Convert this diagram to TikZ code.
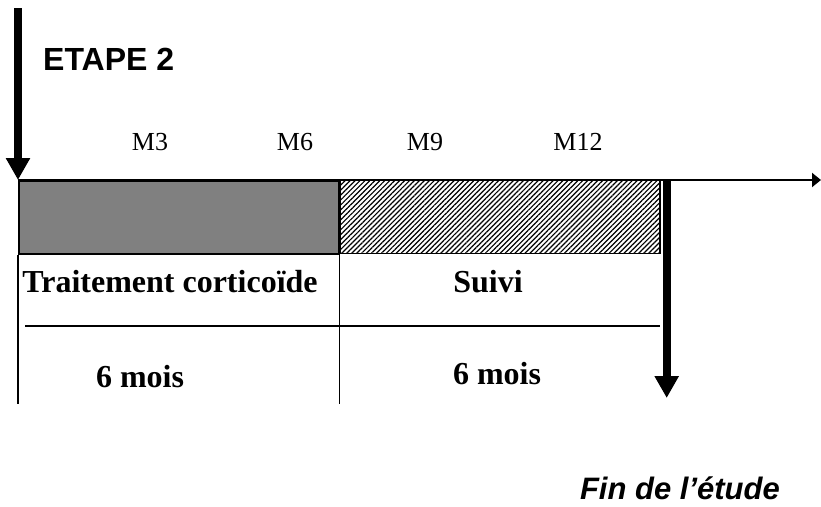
\documentclass[tikz,border=0pt]{standalone}
\usepackage{fontspec}
\setmainfont{Liberation Serif}
\newfontfamily\arial{Liberation Sans}
\usetikzlibrary{arrows.meta,patterns.meta}

\begin{document}
\begin{tikzpicture}[x=1pt,y=-1pt,
    axe/.style={line width=2pt,-{Triangle[width=14pt,length=9pt]}},
    fleche/.style={line width=8pt,-{Triangle[width=23pt,length=22pt]}},
    bloc/.style={draw,line width=1.5pt,minimum width=320pt,minimum height=73pt,
      inner sep=0pt,anchor=north west},
    cell/.style={font=\bfseries\fontsize{32}{36}\selectfont,inner sep=0pt,anchor=base},
    mois/.style={font=\fontsize{26}{30}\selectfont,inner sep=0pt,anchor=base}]
  \useasboundingbox (0,0) rectangle (821,506);

  \coordinate (debut) at (18,8);
  \coordinate (origine) at (18,180);
  \coordinate (fin) at (821,180);

  % periodes
  \node[bloc,fill=gray] (corticoide) at (origine) {};
  \node[bloc,pattern={Lines[angle=45,distance=3.5pt,line width=1.2pt]}]
    (suivi) at (corticoide.north east) {};

  % tableau
  \draw[line width=1.2pt] (corticoide.south west) -- ++(0,149);
  \draw[line width=1.2pt] (corticoide.south east) -- ++(0,149);
  \draw[line width=1.2pt] (25,326) -- (660,326);

  % axe du temps
  \draw[axe] (origine) -- (fin);
  \draw[fleche] (debut) -- (origine);
  \draw[fleche] ([xshift=6pt]suivi.north east) -- ++(0,218);

  \foreach \m/\x in {3/150,6/295,9/425,12/578}
    \node[mois] (m\m) at (\x,150) {M\m};

  \node[cell] (traitement) at (170,292) {Traitement corticoïde};
  \node[cell] (suivitxt) at (488,292) {Suivi};
  \node[cell] (duree1) at (140,387) {6 mois};
  \node[cell] (duree2) at (497,384) {6 mois};

  \node[font=\arial\bfseries\fontsize{32}{36}\selectfont,inner sep=0pt,anchor=base west]
    (etape) at (43,70) {ETAPE 2};
  \node[font=\arial\bfseries\itshape\fontsize{31}{36}\selectfont,inner sep=0pt,anchor=base east]
    (finetude) at (780,499) {Fin de l’étude};
\end{tikzpicture}
\end{document}
